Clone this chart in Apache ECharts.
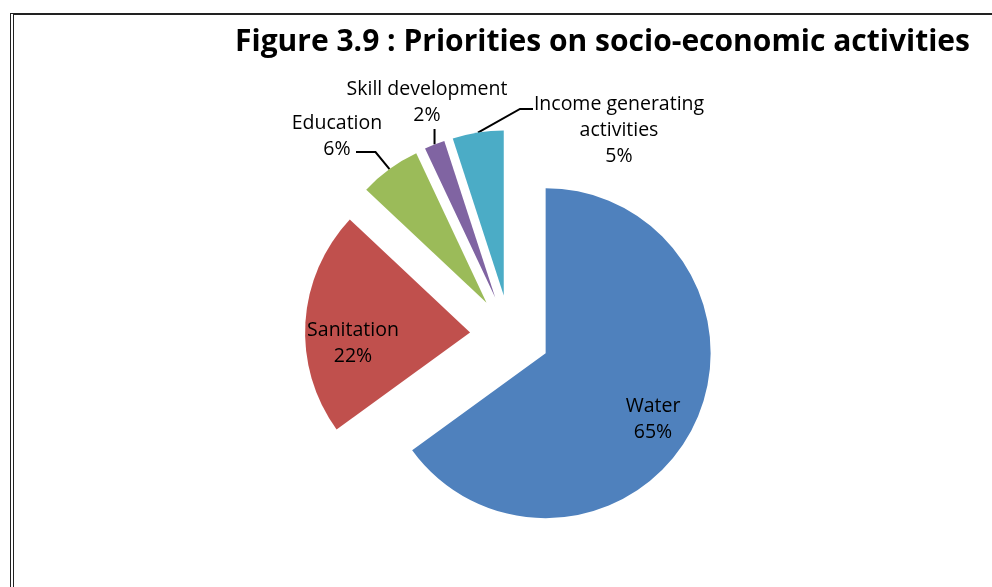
<!DOCTYPE html>
<html>
<head>
<meta charset="utf-8">
<script src="https://cdn.jsdelivr.net/npm/echarts@6/dist/echarts.min.js"></script>
<style>
  html, body { margin: 0; padding: 0; background: #fff; }
  #frame { position: absolute; left: 10px; top: 13px; width: 982px; height: 574px;
           border-left: 4px double #222; border-top: 2px solid #222; box-sizing: border-box; }
  #chart { position: absolute; left: 0; top: 0; width: 992px; height: 587px; }
</style>
</head>
<body>
<div id="frame"></div>
<div id="chart"></div>
<script>
  // data
  const categories = ['Water', 'Sanitation', 'Education', 'Skill development', 'Income generating activities'];
  const labelNames = ['Water', 'Sanitation', 'Education', 'Skill development', 'Income generating\nactivities'];
  const values = [65, 22, 6, 2, 5];
  const colors = ['#4F81BD', '#C0504D', '#9BBB59', '#8064A2', '#4BACC6'];

  // layout
  const center = [510, 335];
  const radius = 165;
  const explode = 40;
  const labelPos = [[653, 419], [353, 343], [337, 136], [427, 102], [619, 130]];
  const font = 'Open Sans';

  const total = values.reduce((a, b) => a + b, 0);
  function midAngle(i) {
    let cum = 0;
    for (let k = 0; k < i; k++) cum += values[k];
    return (90 - 360 * (cum + values[i] / 2) / total) * Math.PI / 180;
  }
  // exploded centre of each slice
  function sliceCenter(i) {
    const a = midAngle(i);
    return [center[0] + explode * Math.cos(a), center[1] - explode * Math.sin(a)];
  }
  // outer edge point at the middle of each slice
  function edgePoint(i) {
    const a = midAngle(i);
    const c = sliceCenter(i);
    return [c[0] + radius * Math.cos(a), c[1] - radius * Math.sin(a)];
  }

  function leader(i) {
    const p = edgePoint(i);
    if (i === 2) return [p, [p[0] - 14, 152], [356, 152]];
    if (i === 3) return [p, [p[0], 138], [p[0], 129]];
    if (i === 4) return [p, [520, 109], [533, 109]];
    return null;
  }

  // one pie per slice so every slice can be pulled out from the centre
  const series = categories.map((cat, s) => ({
    type: 'pie',
    center: sliceCenter(s),
    radius: radius,
    startAngle: 90,
    clockwise: true,
    silent: true,
    emphasis: { disabled: true },
    label: {
      fontFamily: font,
      fontSize: 19.5,
      lineHeight: 26,
      color: '#000',
      align: 'center',
      formatter: function (p) {
        return labelNames[p.dataIndex] + '\n' + Math.round(p.percent) + '%';
      }
    },
    labelLine: { lineStyle: { color: '#000', width: 2 } },
    labelLayout: function (params) {
      const i = params.dataIndex;
      if (i !== s) return {};
      const out = { x: labelPos[i][0], y: labelPos[i][1], align: 'center', verticalAlign: 'middle' };
      const pts = leader(i);
      if (pts) out.labelLinePoints = pts;
      return out;
    },
    data: categories.map((name, i) => ({
      name: name,
      value: values[i],
      itemStyle: { color: i === s ? colors[i] : 'transparent' },
      label: { show: i === s },
      labelLine: { show: i === s && leader(i) !== null }
    }))
  }));

  const chartObj = echarts.init(document.getElementById('chart'));
  chartObj.setOption({
    animation: false,
    title: {
      text: 'Figure 3.9 : Priorities on socio-economic activities',
      right: 17,
      top: 22,
      textStyle: { fontFamily: font, fontWeight: 'bold', fontSize: 30, color: '#000' }
    },
    series: series
  });
</script>
</body>
</html>
